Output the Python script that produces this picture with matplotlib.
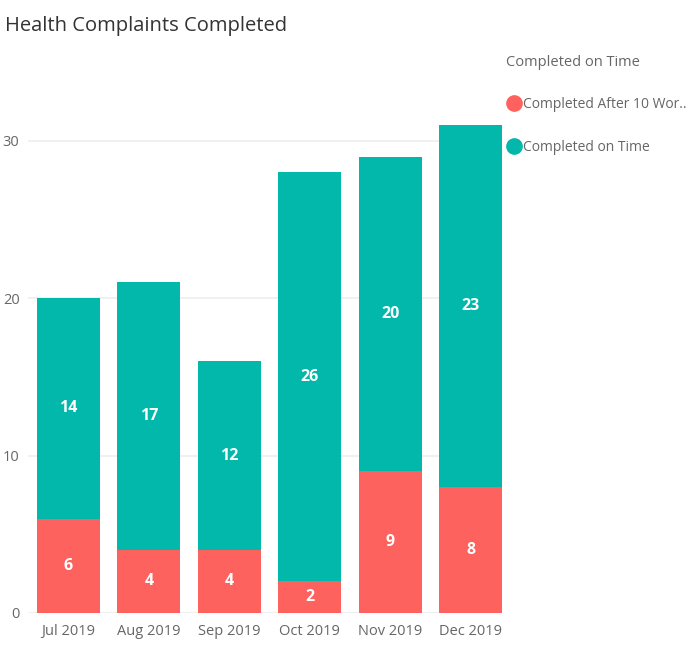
import matplotlib.pyplot as plt
from matplotlib.lines import Line2D

months = ['Jul 2019', 'Aug 2019', 'Sep 2019', 'Oct 2019', 'Nov 2019', 'Dec 2019']
late = [6, 4, 4, 2, 9, 8]
on_time = [14, 17, 12, 26, 20, 23]
series_names = ['Completed After 10 Wor..', 'Completed on Time']
legend_title = 'Completed on Time'

red = '#FD625E'
teal = '#01B8AA'
grey = '#666666'

plt.rcParams['font.family'] = ['Open Sans', 'DejaVu Sans']

fig = plt.figure(figsize=(6.97, 6.47), dpi=100)
ax = fig.add_axes([0.040, 0.0526, 0.680, 0.759])

x = range(len(months))
ax.bar(x, late, width=0.78, color=red, zorder=3)
ax.bar(x, on_time, width=0.78, bottom=late, color=teal, zorder=3)

for i in x:
    ax.text(i, late[i] / 2, str(late[i]), ha='center', va='center',
            color='white', fontsize=11.5, fontweight='bold', zorder=4)
    ax.text(i, late[i] + on_time[i] / 2, str(on_time[i]), ha='center', va='center',
            color='white', fontsize=11.5, fontweight='bold', zorder=4)

ax.set_xlim(-0.503, 5.385)
ax.set_ylim(0, 31.2)
ax.set_yticks([0, 10, 20, 30])
ax.set_xticks(list(x))
ax.set_xticklabels(months)
ax.tick_params(length=0, colors=grey, labelsize=10.5)
ax.tick_params(axis='y', pad=6)
ax.tick_params(axis='x', pad=8)
ax.grid(axis='y', color='#eeeeee', linewidth=1.2, zorder=0)
for s in ax.spines.values():
    s.set_visible(False)

fig.text(0.007, 0.975, 'Health Complaints Completed', fontsize=14.5,
         color='#333333', va='top')

handles = [Line2D([], [], marker='o', linestyle='', markersize=11, color=c)
           for c in (red, teal)]
leg = fig.legend(handles, series_names, title=legend_title, loc='upper left',
                 bbox_to_anchor=(0.708, 0.935), frameon=False, fontsize=10,
                 title_fontsize=10.5, handletextpad=0.0, labelspacing=2.0,
                 handlelength=1.2, alignment='left')
for t in leg.get_texts():
    t.set_color(grey)
leg.get_title().set_color(grey)

fig.savefig('out.png', dpi=100)
